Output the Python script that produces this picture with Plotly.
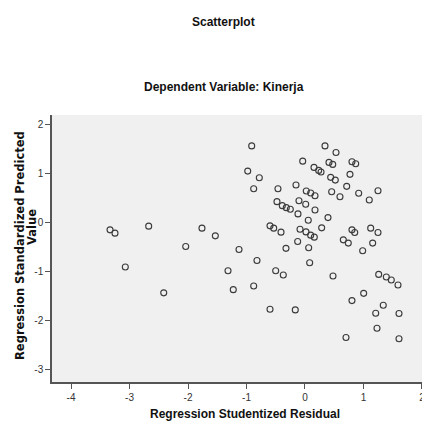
import plotly.graph_objects as go

# Regression Studentized Residual (x) and Regression Standardized Predicted Value (y)
residual = [-3.333, -3.248, -2.672, -1.761, -1.533, -2.039, -1.128, -3.072, -1.316, -2.415,
            -1.226, -0.911, 0.342, 0.530, -0.039, 0.410, 0.474, 0.803, 0.867, -0.979,
            0.154, 0.234, 0.274, 0.769, -0.781, 0.439, 0.518, -0.877, -0.462, -0.154,
            0.713, 0.022, 0.097, 0.171, 0.456, 0.598, 0.918, 1.248, 1.099, -0.479,
            -0.388, -0.320, -0.251, -0.103, 0.012, 0.171, -0.120, 0.056, 0.393, -0.598,
            -0.535, -0.410, -0.085, 0.017, 0.097, 0.159, 0.285, 0.803, 0.850, 1.123,
            1.248, -0.125, 0.655, 0.740, 1.157, -0.325, 0.063, 0.986, -0.821, 0.080,
            -0.501, -0.371, 0.479, 1.260, 1.390, 1.475, 1.590, -0.877, 1.003, 0.803,
            1.338, -0.598, -0.166, 1.209, 1.607, 1.231, 0.701, 1.607]
predicted = [-0.149, -0.216, -0.073, -0.114, -0.271, -0.490, -0.551, -0.910, -0.986, -1.439,
             -1.373, 1.571, 1.571, 1.437, 1.259, 1.233, 1.192, 1.245, 1.204, 1.055,
             1.131, 1.069, 1.035, 0.988, 0.918, 0.927, 0.871, 0.694, 0.694, 0.769,
             0.743, 0.647, 0.606, 0.551, 0.633, 0.531, 0.600, 0.653, 0.463, 0.429,
             0.347, 0.306, 0.273, 0.449, 0.376, 0.259, 0.178, 0.049, 0.102, -0.067,
             -0.114, -0.196, -0.135, -0.190, -0.257, -0.298, -0.108, -0.149, -0.204, -0.114,
             -0.204, -0.388, -0.353, -0.420, -0.420, -0.527, -0.516, -0.578, -0.776, -0.822,
             -0.986, -1.073, -1.094, -1.061, -1.114, -1.176, -1.278, -1.298, -1.449, -1.598,
             -1.694, -1.776, -1.788, -1.857, -1.863, -2.163, -2.355, -2.380]

x_ticks = [-4, -3, -2, -1, 0, 1, 2]
x_tick_labels = ["-4", "-3", "-2", "-1", "0", "1", "2"]
y_ticks = [-3, -2, -1, 0, 1, 2]
y_tick_labels = ["-3", "-2", "-1", "0", "1", "2"]

NARROW = "Liberation Sans Narrow, Arial Narrow, Liberation Sans, Arial"
TICKFONT = dict(family=NARROW, size=10, color="#333333")

# The page body has a default 8px margin; lay the figure out in page pixels.
OFF = 8
PAGE_W, PAGE_H = 430, 426
W, H = PAGE_W - OFF, PAGE_H - OFF
frame_left, frame_right, frame_top, frame_bottom = 52, 430, 115, 382  # page pixels
pl = frame_left - OFF
pr = PAGE_W - frame_right
pt = frame_top - OFF
pb = PAGE_H - frame_bottom
pw, ph = W - pl - pr, H - pt - pb


def px_x(x):
    return (x - OFF - pl) / pw


def px_y(y):
    return (H - (y - OFF) - pb) / ph


fig = go.Figure()
fig.add_trace(go.Scatter(
    x=residual, y=predicted, mode="markers",
    marker=dict(symbol="circle-open", size=6, color="#3a3a3a", line=dict(width=1.1, color="#3a3a3a")),
    hoverinfo="x+y", showlegend=False,
))

axis_common = dict(showgrid=False, zeroline=False, showline=True, linecolor="#555555", linewidth=1.5,
                   ticks="outside", ticklen=5, tickwidth=1, tickcolor="#555555", tickfont=TICKFONT,
                   fixedrange=True, automargin=False)

fig.update_layout(
    template="none",
    width=W, height=H,
    margin=dict(l=pl, r=pr, t=pt, b=pb, pad=0, autoexpand=False),
    paper_bgcolor="white", plot_bgcolor="#F0F0F0",
    xaxis=dict(range=[-4.325, 2.137], tickvals=x_ticks, ticktext=x_tick_labels, **axis_common),
    yaxis=dict(range=[-3.265, 2.204], tickvals=y_ticks, ticktext=y_tick_labels, **axis_common),
)


def label(text, x, y, size=12, family=NARROW, angle=0):
    fig.add_annotation(text=text, x=px_x(x), y=px_y(y), xref="paper", yref="paper",
                       xanchor="center", yanchor="middle", textangle=angle,
                       showarrow=False, font=dict(family=family, size=size, color="#111111"))


label("<b>Scatterplot</b>", 223, 22)
label("<b>Dependent Variable: Kinerja</b>", 224, 87)
label("<b>Regression Studentized Residual</b>", 245, 414)
label("<b>Regression Standardized Predicted</b>", 20, 246, size=11.5, family="DejaVu Sans", angle=-90)
label("<b>Value</b>", 32, 227, size=11.5, family="DejaVu Sans", angle=-90)

fig.write_html("out.html")
